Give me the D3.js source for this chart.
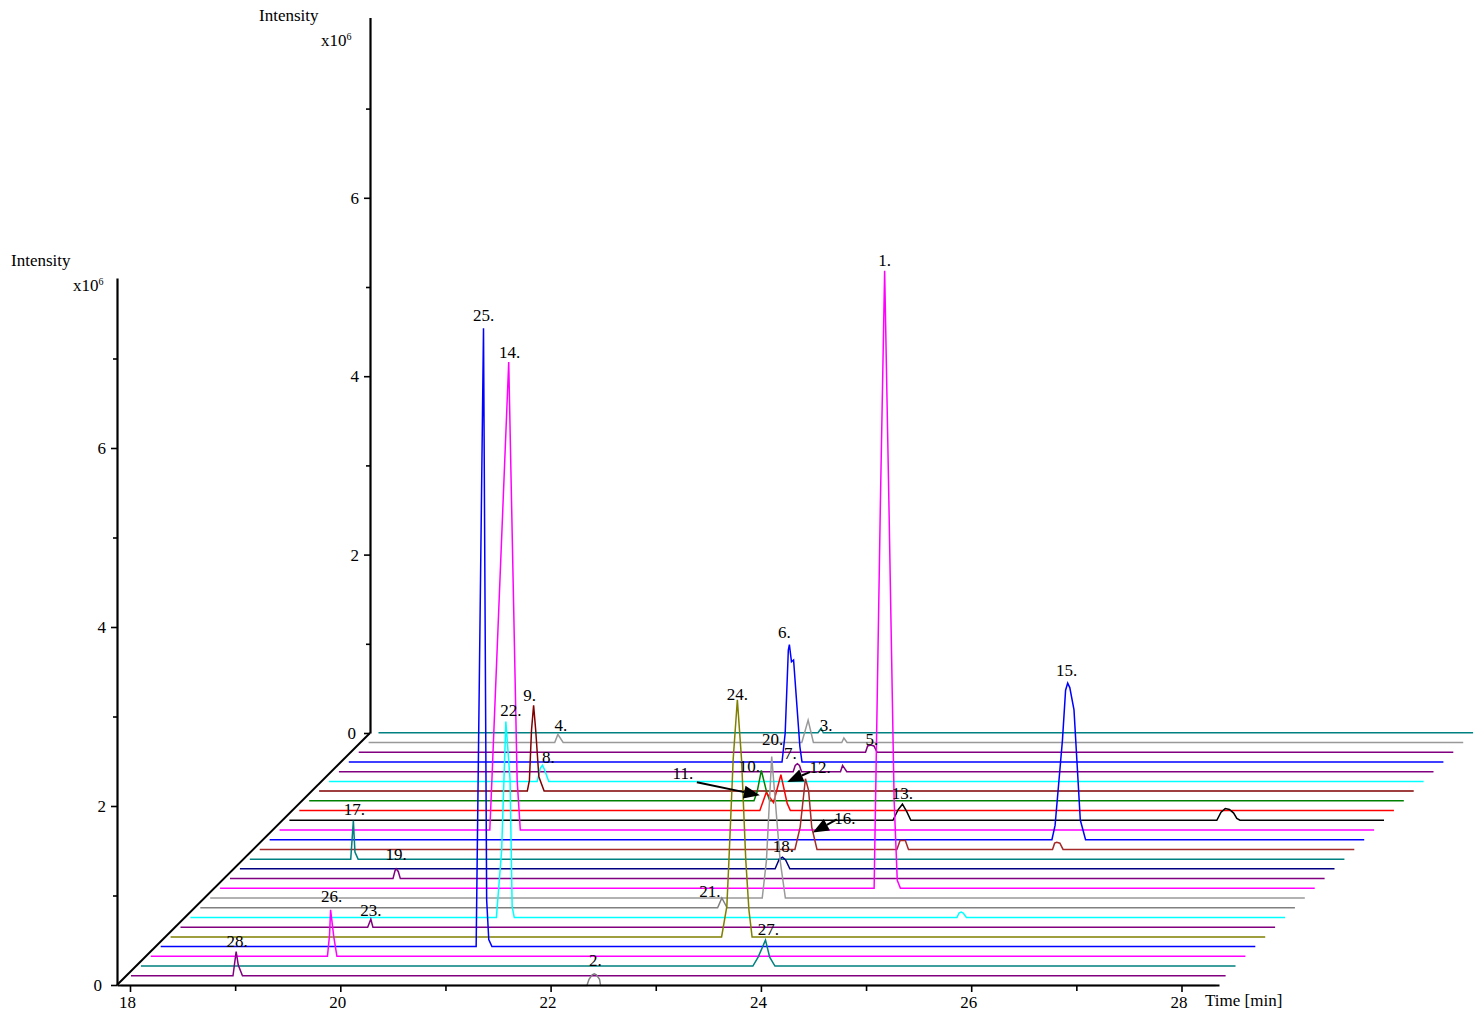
<!DOCTYPE html>
<html>
<head>
<meta charset="utf-8">
<script src="https://cdn.jsdelivr.net/npm/d3@7"></script>
<style>
body { margin: 0; background: #fff; }
text { font-family: "Liberation Serif", "Times New Roman", serif; font-size: 17px; fill: #000; }
</style>
</head>
<body>
<script>
var w = 1481;
var h = 1015;

// run start / end time of every trace [min]
var traceStart = 18.0;
var traceEnd = 28.41;

// trace colours, front (hidden under the axis) to back
var traceColors = ["#808080", "#800080", "#008080", "#ff00ff", "#0000ff", "#808000", "#800080",
    "#00ffff", "#808080", "#999999", "#ff00ff", "#800080", "#000080", "#008080", "#a52a2a",
    "#0000ff", "#ff00ff", "#000000", "#ff0000", "#008000", "#800000", "#00ffff", "#800080",
    "#0000ff", "#800080", "#999999", "#008080"];

// peaks: [trace, [[time, intensity x10^6], ...]]
var peaks = [
    [0, [[22.43, 0], [22.45, 0.07], [22.48, 0.12], [22.50, 0.13], [22.52, 0.12], [22.55, 0.07], [22.56, 0]]],
    [1, [[18.97, 0], [19.00, 0.27], [19.02, 0.12], [19.06, 0]]],
    [2, [[23.82, 0], [23.87, 0.10], [23.94, 0.29], [23.98, 0.10], [24.03, 0]]],
    [3, [[19.68, 0], [19.70, 0.24], [19.71, 0.52], [19.74, 0.22], [19.77, 0]]],
    [4, [[21.00, 0], [21.07, 6.91], [21.10, 0.52], [21.12, 0.08], [21.15, 0]]],
    [5, [[23.24, 0], [23.29, 0.34], [23.31, 0.86], [23.35, 1.98], [23.39, 2.65], [23.43, 1.98], [23.47, 0.86], [23.50, 0.30], [23.53, 0]]],
    [6, [[19.78, 0], [19.81, 0.09], [19.83, 0]]],
    [7, [[20.91, 0], [20.96, 0.75], [21.00, 2.19], [21.04, 1.54], [21.06, 0.12], [21.08, 0]]],
    [7, [[25.29, 0], [25.31, 0.05], [25.33, 0.06], [25.35, 0.05], [25.38, 0]]],
    [8, [[22.92, 0], [22.96, 0.11], [23.01, 0]]],
    [9, [[23.25, 0], [23.29, 0.42], [23.34, 1.58], [23.42, 0.42], [23.47, 0]]],
    [10, [[24.22, 0], [24.28, 4.34], [24.32, 6.90], [24.36, 4.34], [24.41, 0.99], [24.44, 0.09], [24.47, 0]]],
    [11, [[19.55, 0], [19.57, 0.09], [19.58, 0.11], [19.60, 0.08], [19.62, 0]]],
    [12, [[23.09, 0], [23.13, 0.11], [23.16, 0.13], [23.19, 0.10], [23.23, 0]]],
    [13, [[18.96, 0], [18.985, 0.43], [19.00, 0.08], [19.03, 0]]],
    [14, [[23.09, 0], [23.14, 0.25], [23.19, 0.79], [23.22, 0.66], [23.25, 0.25], [23.30, 0]]],
    [14, [[24.06, 0], [24.09, 0.10], [24.14, 0.10], [24.17, 0]]],
    [14, [[25.54, 0], [25.56, 0.07], [25.58, 0.08], [25.61, 0.07], [25.64, 0]]],
    [15, [[25.44, 0], [25.47, 0.16], [25.54, 1.11], [25.57, 1.67], [25.59, 1.75], [25.61, 1.70], [25.65, 1.45], [25.71, 0.22], [25.76, 0]]],
    [16, [[20.00, 0], [20.02, 0.56], [20.18, 5.23], [20.26, 0.56], [20.29, 0]]],
    [17, [[23.74, 0], [23.79, 0.12], [23.83, 0.18], [23.87, 0.10], [23.91, 0]]],
    [17, [[26.82, 0], [26.86, 0.09], [26.90, 0.13], [26.94, 0.12], [26.98, 0.08], [27.01, 0.02], [27.04, 0]]],
    [18, [[22.38, 0], [22.44, 0.20], [22.51, 0.09], [22.58, 0.40], [22.64, 0.08], [22.67, 0]]],
    [19, [[22.23, 0], [22.26, 0.10], [22.30, 0.34], [22.35, 0.10], [22.38, 0]]],
    [20, [[19.98, 0], [20.00, 0.12], [20.02, 0.68], [20.04, 0.96], [20.06, 0.68], [20.09, 0.16], [20.14, 0]]],
    [21, [[19.98, 0], [20.01, 0.15], [20.03, 0.18], [20.05, 0.13], [20.09, 0]]],
    [22, [[22.32, 0], [22.34, 0.07], [22.36, 0.09], [22.38, 0.07], [22.40, 0]]],
    [22, [[22.77, 0], [22.79, 0.07], [22.83, 0]]],
    [23, [[22.12, 0], [22.15, 0.32], [22.18, 1.25], [22.19, 1.31], [22.21, 1.12], [22.23, 1.14], [22.29, 0.17], [22.31, 0]]],
    [24, [[22.82, 0], [22.84, 0.07], [22.87, 0.08], [22.90, 0.07], [22.93, 0]]],
    [25, [[19.77, 0], [19.80, 0.09], [19.85, 0]]],
    [25, [[22.12, 0], [22.18, 0.25], [22.23, 0]]],
    [25, [[22.50, 0], [22.52, 0.05], [22.55, 0]]],
    [26, [[22.18, 0], [22.21, 0.05], [22.23, 0]]]
];

// peak labels: [text, trace, time, intensity]
var peakLabels = [
    ["2.", 0, 22.50, 0.13], ["28.", 1, 19.00, 0.27], ["27.", 2, 23.94, 0.29], ["26.", 3, 19.71, 0.52],
    ["25.", 4, 21.07, 6.91], ["24.", 5, 23.39, 2.65], ["23.", 6, 19.81, 0.09], ["22.", 7, 21.00, 2.19],
    ["21.", 8, 22.96, 0.11], ["20.", 9, 23.34, 1.58], ["1.", 10, 24.32, 6.90], ["19.", 11, 19.58, 0.11],
    ["18.", 12, 23.16, 0.13], ["17.", 13, 18.985, 0.43], ["15.", 15, 25.59, 1.75], ["14.", 16, 20.18, 5.23],
    ["13.", 17, 23.83, 0.18], ["10.", 19, 22.30, 0.34], ["9.", 20, 20.04, 0.96], ["8.", 21, 20.03, 0.18],
    ["7.", 22, 22.36, 0.09], ["6.", 23, 22.19, 1.31], ["5.", 24, 22.87, 0.08], ["4.", 25, 19.80, 0.09],
    ["3.", 26, 22.21, 0.05]
];

// labels pointing with an arrow: [text, trace, time, intensity] of the arrow tip
var arrowLabels = [["11.", 18, 22.38, 0.17], ["12.", 18, 22.64, 0.32], ["16.", 14, 23.26, 0.19]];

var yMajor = [0, 2, 4, 6];
var yMinor = [1, 3, 5, 7];
var xMajor = [18, 20, 22, 24, 26, 28];
var xMinor = [19, 21, 23, 25, 27];

// text offsets in px from the anchor point (layout only)
var labelNudge = {
    "2.": [1, -13], "28.": [1, -10], "27.": [3, -11], "26.": [1, -13], "25.": [0, -13], "24.": [0, -5],
    "23.": [0, -9], "22.": [5, -11], "21.": [-12, -6], "20.": [1, -17], "1.": [0, -10], "19.": [0, -14],
    "18.": [1, -11], "17.": [1, -11], "15.": [-1, -13], "14.": [1, -9], "13.": [0, -11], "10.": [-12, -4],
    "9.": [-4, -10], "8.": [6, -8], "7.": [-7, -10], "6.": [-5, -12], "5.": [1, -6], "4.": [3, -9],
    "3.": [5, -3], "11.": [-77, -22], "12.": [33, -14], "16.": [32, -14]
};
var arrowTail = { "11.": [-63, -13], "12.": [23, -10], "16.": [24, -13] };

var svg = d3.select("body").append("svg").attr("width", w).attr("height", h);

var x = d3.scaleLinear().domain([18, 28]).range([130, 1181.5]);
var y = d3.scaleLinear().domain([0, 8]).range([985, 985 - 8 * 89.5]);
var depthX = d3.scaleLinear().domain([0, 26]).range([-8.9, 248.5]);
var depthY = d3.scaleLinear().domain([0, 26]).range([0.5, -252.2]);

function px(d, t) { return x(t) + depthX(d); }
function py(d, v) { return y(v) + depthY(d); }

// build trace point lists
var traces = traceColors.map(function (c, i) {
    var pts = [[traceStart, 0]];
    peaks.forEach(function (p) {
        if (p[0] == i) pts = pts.concat(p[1]);
    });
    pts.push([traceEnd, 0]);
    pts.sort(function (a, b) { return a[0] - b[0]; });
    return { d: i, color: c, pts: pts };
});

var line = d3.line();

svg.append("g").selectAll("path")
    .data(traces.slice().reverse())
    .enter()
    .append("path")
    .attr("d", function (tr) {
        return line(tr.pts.map(function (p) { return [px(tr.d, p[0]), py(tr.d, p[1])]; }));
    })
    .style("fill", "none")
    .style("stroke", function (tr) { return tr.color; })
    .style("stroke-width", 1.5);

// axes
var ox = 117, oy = 985;
var bx = 370, by = 733;

var yFront = d3.scaleLinear().domain([0, 7.9]).range([oy, oy - 7.9 * 89.5]);
var yBack = d3.scaleLinear().domain([0, 8.02]).range([by, by - 8.02 * 89.2]);
var xAxisScale = d3.scaleLinear().domain([x.invert(ox), x.invert(1219)]).range([ox, 1219]);

function styleAxis(g) {
    g.select(".domain").style("stroke", "#000").style("stroke-width", 2.2);
    g.selectAll(".tick line").style("stroke", "#000").style("stroke-width", 1.6);
    g.selectAll("text").style("font-size", "17px").style("font-family", '"Liberation Serif", serif');
}

// front intensity axis
var gF = svg.append("g").attr("transform", "translate(" + ox + ",0)");
gF.call(d3.axisLeft(yFront).tickValues(yMajor).tickSize(6).tickPadding(5).tickSizeOuter(0).tickFormat(d3.format("d")))
    .call(styleAxis);
gF.append("g").call(d3.axisLeft(yFront).tickValues(yMinor).tickSize(4).tickFormat("").tickSizeOuter(0))
    .call(function (g) { g.select(".domain").remove(); }).call(styleAxis);
gF.selectAll(".tick text").filter(function (d) { return d === 0; }).attr("x", -15);

// back intensity axis
var gB = svg.append("g").attr("transform", "translate(" + bx + ",0)");
gB.call(d3.axisLeft(yBack).tickValues(yMajor).tickSize(6).tickPadding(5).tickSizeOuter(0).tickFormat(d3.format("d")))
    .call(styleAxis);
gB.append("g").call(d3.axisLeft(yBack).tickValues(yMinor).tickSize(4).tickFormat("").tickSizeOuter(0))
    .call(function (g) { g.select(".domain").remove(); }).call(styleAxis);
gB.selectAll(".tick text").filter(function (d) { return d === 0; }).attr("x", -14);

// depth diagonal
svg.append("line").attr("x1", ox).attr("y1", oy).attr("x2", bx).attr("y2", by)
    .style("stroke", "#000").style("stroke-width", 2);

// time axis
var gX = svg.append("g").attr("transform", "translate(0," + oy + ")");
gX.call(d3.axisBottom(xAxisScale).tickValues(xMajor).tickSize(7).tickPadding(4).tickSizeOuter(0).tickFormat(d3.format("d")))
    .call(styleAxis);
gX.selectAll(".tick text").attr("dx", -3);
gX.append("g").call(d3.axisBottom(xAxisScale).tickValues(xMinor).tickSize(6).tickFormat("").tickSizeOuter(0))
    .call(function (g) { g.select(".domain").remove(); }).call(styleAxis);

svg.append("text").attr("x", 1205).attr("y", 1006).text("Time [min]");

// axis titles
function title(x0, y0) {
    svg.append("text").attr("x", x0).attr("y", y0).text("Intensity");
    var t = svg.append("text").attr("x", x0 + 62).attr("y", y0 + 25).text("x10");
    t.append("tspan").attr("dy", -6).style("font-size", "10px").text("6");
}
title(11, 266);
title(259, 21);

// peak labels
svg.append("g").selectAll("text")
    .data(peakLabels)
    .enter()
    .append("text")
    .attr("text-anchor", "middle")
    .attr("x", function (l) { return px(l[1], l[2]) + labelNudge[l[0]][0]; })
    .attr("y", function (l) { return py(l[1], l[3]) + labelNudge[l[0]][1] + 5.5; })
    .text(function (l) { return l[0]; });

// arrows
var ga = svg.append("g");
arrowLabels.forEach(function (a) {
    var tx = px(a[1], a[2]), ty = py(a[1], a[3]);
    var sx = tx + arrowTail[a[0]][0], sy = ty + arrowTail[a[0]][1];
    var dx = tx - sx, dy = ty - sy, len = Math.sqrt(dx * dx + dy * dy);
    var ux = dx / len, uy = dy / len, hl = 16, hw = 6.5;
    var bxh = tx - ux * hl, byh = ty - uy * hl;
    ga.append("line").attr("x1", sx).attr("y1", sy).attr("x2", bxh).attr("y2", byh)
        .style("stroke", "#000").style("stroke-width", 2);
    ga.append("path")
        .attr("d", "M" + tx + "," + ty + "L" + (bxh - uy * hw) + "," + (byh + ux * hw) +
            "L" + (bxh + uy * hw) + "," + (byh - ux * hw) + "Z")
        .style("fill", "#000");
    ga.append("text").attr("text-anchor", "middle")
        .attr("x", tx + labelNudge[a[0]][0]).attr("y", ty + labelNudge[a[0]][1] + 5.5)
        .text(a[0]);
});
</script>
</body>
</html>
